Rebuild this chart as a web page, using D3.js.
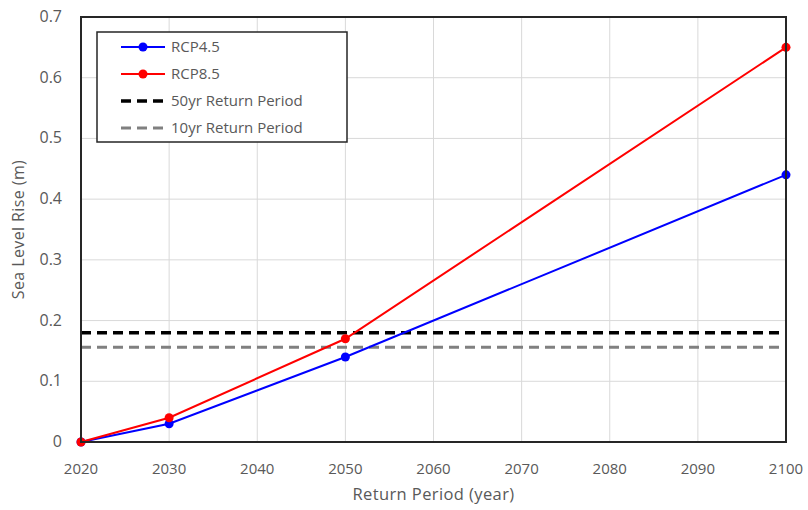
<!DOCTYPE html>
<html>
<head>
<meta charset="utf-8">
<script src="https://cdn.jsdelivr.net/npm/d3@7"></script>
<style>
  body { margin: 0; background: #fff; }
  text { font-family: "Open Sans", "Noto Sans", sans-serif; fill: #595959; }
</style>
</head>
<body>
<div id="chart"></div>
<script>
var years = [2020, 2030, 2050, 2100];
var rcp45 = [0, 0.03, 0.14, 0.44];
var rcp85 = [0, 0.04, 0.17, 0.65];
var rp50 = 0.18;
var rp10 = 0.156;
var xTicks = [2020, 2030, 2040, 2050, 2060, 2070, 2080, 2090, 2100];
var yTicks = [0, 0.1, 0.2, 0.3, 0.4, 0.5, 0.6, 0.7];

var width = 808, height = 510;
var margin = { top: 17, right: 22, bottom: 68, left: 81 };

var svg = d3.select("#chart").append("svg")
  .attr("width", width)
  .attr("height", height);

var x = d3.scaleLinear().domain([2020, 2100]).range([margin.left, width - margin.right]);
var y = d3.scaleLinear().domain([0, 0.7]).range([height - margin.bottom, margin.top]);

// grid lines
svg.selectAll(".vgrid").data(xTicks).enter().append("line")
  .attr("x1", d => x(d)).attr("x2", d => x(d))
  .attr("y1", y(0)).attr("y2", y(0.7))
  .attr("stroke", "#d9d9d9").attr("stroke-width", 1);

svg.selectAll(".hgrid").data(yTicks).enter().append("line")
  .attr("x1", x(2020)).attr("x2", x(2100))
  .attr("y1", d => y(d)).attr("y2", d => y(d))
  .attr("stroke", "#d9d9d9").attr("stroke-width", 1);

// tick labels
svg.selectAll(".xlab").data(xTicks).enter().append("text")
  .attr("x", d => x(d)).attr("y", y(0) + 32)
  .attr("text-anchor", "middle")
  .style("font-size", "15px")
  .text(d => d);

svg.selectAll(".ylab").data(yTicks).enter().append("text")
  .attr("x", x(2020) - 19).attr("y", d => y(d) + 5)
  .attr("text-anchor", "end")
  .style("font-size", "16px")
  .text(d => d3.format("")(+d.toFixed(1)));

// axis titles
svg.append("text")
  .attr("x", (x(2020) + x(2100)) / 2).attr("y", 500)
  .attr("text-anchor", "middle")
  .style("font-size", "16.5px")
  .style("letter-spacing", "0.4px")
  .text("Return Period (year)");

svg.append("text")
  .attr("transform", "translate(24," + (y(0) + y(0.7)) / 2 + ") rotate(-90)")
  .attr("text-anchor", "middle")
  .style("font-size", "16px")
  .style("letter-spacing", "0.4px")
  .text("Sea Level Rise (m)");

// return period lines
svg.append("line")
  .attr("x1", x(2020)).attr("x2", x(2100))
  .attr("y1", y(rp10)).attr("y2", y(rp10))
  .attr("stroke", "#808080").attr("stroke-width", 3)
  .attr("stroke-dasharray", "10,6");

svg.append("line")
  .attr("x1", x(2020)).attr("x2", x(2100))
  .attr("y1", y(rp50)).attr("y2", y(rp50))
  .attr("stroke", "#000").attr("stroke-width", 3.5)
  .attr("stroke-dasharray", "10,6");

// series
var line = d3.line().x((d, i) => x(years[i])).y(d => y(d));

function drawSeries(vals, color) {
  svg.append("path").datum(vals)
    .attr("d", line)
    .attr("fill", "none")
    .attr("stroke", color)
    .attr("stroke-width", 2);
  svg.selectAll(null).data(vals).enter().append("circle")
    .attr("cx", (d, i) => x(years[i]))
    .attr("cy", d => y(d))
    .attr("r", 4.5)
    .attr("fill", color);
}
drawSeries(rcp45, "#0000ff");
drawSeries(rcp85, "#ff0000");

// plot frame
svg.append("rect")
  .attr("x", x(2020)).attr("y", y(0.7))
  .attr("width", x(2100) - x(2020)).attr("height", y(0) - y(0.7))
  .attr("fill", "none").attr("stroke", "#262626").attr("stroke-width", 2);

// legend
var legendItems = [
  { name: "RCP4.5", color: "#0000ff", dash: null, marker: true, w: 2 },
  { name: "RCP8.5", color: "#ff0000", dash: null, marker: true, w: 2 },
  { name: "50yr Return Period", color: "#000", dash: "10,6", marker: false, w: 3.5 },
  { name: "10yr Return Period", color: "#808080", dash: "10,6", marker: false, w: 3 }
];

var lg = svg.append("g").attr("transform", "translate(97,32)");
lg.append("rect")
  .attr("width", 250).attr("height", 110)
  .attr("fill", "#fff").attr("stroke", "#262626").attr("stroke-width", 1.5);

var rows = lg.selectAll(".lrow").data(legendItems).enter().append("g")
  .attr("transform", (d, i) => "translate(0," + (15 + i * 27) + ")");

rows.append("line")
  .attr("x1", 24).attr("x2", 68)
  .attr("stroke", d => d.color)
  .attr("stroke-width", d => d.w)
  .attr("stroke-dasharray", d => d.dash);

rows.filter(d => d.marker).append("circle")
  .attr("cx", 46).attr("r", 4.5)
  .attr("fill", d => d.color);

rows.append("text")
  .attr("x", 74).attr("y", 5)
  .style("font-size", "15px")
  .text(d => d.name);
</script>
</body>
</html>
